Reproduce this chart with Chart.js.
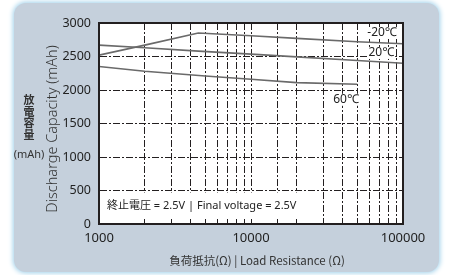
<!DOCTYPE html>
<html>
<head>
<meta charset="utf-8">
<script src="https://cdn.jsdelivr.net/npm/chart.js@4"></script>
<style>
  html, body { margin: 0; padding: 0; background: #fff; }
  #wrap { position: relative; width: 449px; height: 275px; overflow: hidden; }
  #panel {
    position: absolute; left: 14px; top: 3px; width: 425px; height: 269px;
    background: #c5d0dc; border-radius: 12px;
    box-shadow: 0 0 5px 1px #9fd0ea;
  }
  #chart { position: absolute; left: 0; top: 0; }
</style>
</head>
<body>
<div id="wrap">
  <div id="panel"></div>
  <canvas id="chart" width="449" height="275"></canvas>
</div>
<script>
// Load resistance (ohm) and discharge capacity (mAh)
const resistance = [1000, 2000, 4500, 10000, 20000, 50000, 100000];
const capMinus20 = [2520, 2670, 2850, 2810, 2770, 2720, 2690];
const cap20 = [2670, 2630, 2580, 2535, 2495, 2440, 2400];
const resistance60 = [1000, 2000, 5000, 10000, 20000, 50000];
const cap60 = [2350, 2280, 2210, 2160, 2110, 2085];
const xTickLabels = [1000, 10000, 100000];

const FONT = "'Noto Sans', 'Noto Sans CJK JP', sans-serif";
const CJK = "'Noto Sans CJK JP', 'Noto Sans', sans-serif";
const INK = "#231f20";

function toPoints(xs, ys) {
  return xs.map((x, i) => ({ x: x, y: ys[i] }));
}

function lineSet(label, xs, ys) {
  return {
    label: label,
    data: toPoints(xs, ys),
    borderColor: "#6a6a6a",
    borderWidth: 1.6,
    pointRadius: 0,
    tension: 0,
    fill: false,
  };
}

// white plot area, box, labels and titles
const decor = {
  id: "decor",
  beforeDraw(chart) {
    const { ctx, chartArea: a } = chart;
    ctx.save();
    ctx.fillStyle = "#fff";
    ctx.fillRect(a.left, a.top, a.right - a.left, a.bottom - a.top);
    ctx.restore();
  },
  afterDatasetsDraw(chart) {
    const { ctx, chartArea: a, scales } = chart;
    const xs = scales.x, ys = scales.y;
    ctx.save();

    // note inside plot
    ctx.font = "11px " + FONT;
    ctx.textBaseline = "middle";
    ctx.textAlign = "left";
    const note = "終止電圧 = 2.5V | Final voltage = 2.5V";
    const nw = ctx.measureText(note).width;
    const ny = ys.getPixelForValue(500);
    ctx.fillStyle = "#fff";
    ctx.fillRect(a.left + 1, ny + 2, nw + 12, a.bottom - ny - 7);
    ctx.fillStyle = "#222";
    ctx.fillText(note, a.left + 8, ny + 15);

    // curve labels
    const tags = [
      ["-20℃", 72800, 2851],
      ["20℃", 72000, 2553],
      ["60℃", 42200, 1854],
    ];
    ctx.font = "12px " + FONT;
    ctx.textAlign = "center";
    tags.forEach(([t, xv, yv]) => {
      const px = xs.getPixelForValue(xv), py = ys.getPixelForValue(yv);
      const w = ctx.measureText(t).width;
      ctx.fillStyle = "#fff";
      ctx.fillRect(px - w / 2 - 1, py - 6, w + 2, 12);
      ctx.fillStyle = "#222";
      ctx.fillText(t, px, py);
    });

    // plot frame
    ctx.strokeStyle = INK;
    ctx.lineWidth = 2;
    ctx.strokeRect(a.left, a.top, a.right - a.left, a.bottom - a.top);

    // axis titles
    ctx.fillStyle = "#333";
    ctx.font = "11.5px " + CJK;
    ctx.textAlign = "center";
    ctx.textBaseline = "middle";
    ctx.fillText("負荷抵抗(Ω) | Load Resistance (Ω)", 257, 261);

    ctx.save();
    ctx.translate(53, 129);
    ctx.rotate(-Math.PI / 2);
    ctx.font = "300 14.5px " + FONT;
    ctx.fillText("Discharge Capacity (mAh)", 0, 0);
    ctx.restore();

    ctx.font = "bold 11px " + CJK;
    ["放", "電", "容", "量"].forEach((c, i) => {
      ctx.fillText(c, 29, 100 + i * 11.5);
    });
    ctx.font = "11px " + FONT;
    ctx.fillText("(mAh)", 29, 155);
    ctx.restore();
  },
};

new Chart(document.getElementById("chart"), {
  type: "line",
  data: {
    datasets: [
      lineSet("-20℃", resistance, capMinus20),
      lineSet("20℃", resistance, cap20),
      lineSet("60℃", resistance60, cap60),
    ],
  },
  options: {
    responsive: false,
    animation: false,
    layout: { padding: { top: 23, right: 46, left: 0, bottom: 0 } },
    plugins: { legend: { display: false }, tooltip: { enabled: false } },
    scales: {
      x: {
        type: "logarithmic",
        min: 1000,
        max: 100000,
        afterFit: (s) => { s.height = 51; },
        grid: { color: INK, lineWidth: 1, drawTicks: false },
        border: { color: INK, width: 2, dash: [7, 2, 2, 2] },
        ticks: {
          autoSkip: false,
          maxRotation: 0,
          padding: 6,
          color: "#222",
          font: { family: FONT, size: 13 },
          callback: (v) => (xTickLabels.includes(v) ? String(v) : ""),
        },
      },
      y: {
        min: 0,
        max: 3000,
        afterFit: (s) => { s.width = 99; },
        grid: { color: INK, lineWidth: 1, drawTicks: false },
        border: { color: INK, width: 2, dash: [7, 2, 2, 2] },
        ticks: {
          stepSize: 500,
          padding: 8,
          color: "#222",
          font: { family: FONT, size: 12.5 },
          callback: (v) => String(v),
        },
      },
    },
  },
  plugins: [decor],
});
</script>
</body>
</html>
